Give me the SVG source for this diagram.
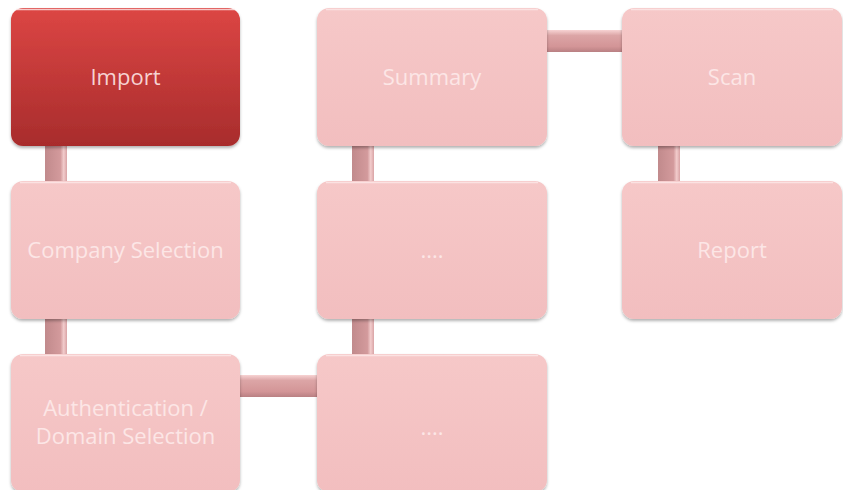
<svg xmlns="http://www.w3.org/2000/svg" width="843" height="490" viewBox="0 0 843 490">
<defs>
<linearGradient id="pink" x1="0" y1="0" x2="0" y2="1">
<stop offset="0" stop-color="#f6c8c8"/>
<stop offset="1" stop-color="#f2bebf"/>
</linearGradient>
<linearGradient id="red" x1="0" y1="0" x2="0" y2="1">
<stop offset="0" stop-color="#dc4644"/>
<stop offset="1" stop-color="#a82c2c"/>
</linearGradient>
<linearGradient id="hbar" x1="0" y1="0" x2="0" y2="1">
<stop offset="0" stop-color="#f7d3d3"/>
<stop offset="0.25" stop-color="#dca5a6"/>
<stop offset="0.75" stop-color="#d39597"/>
<stop offset="1" stop-color="#b98083"/>
</linearGradient>
<linearGradient id="vbar" x1="0" y1="0" x2="1" y2="0">
<stop offset="0" stop-color="#c18a8c"/>
<stop offset="0.7" stop-color="#d39a9c"/>
<stop offset="0.85" stop-color="#f2cccc"/>
<stop offset="1" stop-color="#d9a3a5"/>
</linearGradient>
<filter id="sh" x="-5%" y="-5%" width="110%" height="115%">
<feDropShadow dx="0" dy="2" stdDeviation="1.5" flood-color="#000" flood-opacity="0.3"/>
</filter>
</defs>
<style>
.box{fill:url(#pink);filter:url(#sh)}
.hl{fill:none;stroke:#fde8e8;stroke-width:1.5;opacity:0.8}
.lbl{font-family:"Open Sans","DejaVu Sans",sans-serif;font-size:22px;fill:#fce6e6;text-anchor:middle}
</style>
<rect width="843" height="490" fill="#ffffff"/>
<g id="connectors">
<rect x="45" y="144" width="22" height="40" fill="url(#vbar)"/>
<rect x="45" y="317" width="22" height="40" fill="url(#vbar)"/>
<rect x="238" y="375" width="82" height="22" fill="url(#hbar)"/>
<rect x="352" y="144" width="22" height="40" fill="url(#vbar)"/>
<rect x="352" y="317" width="22" height="40" fill="url(#vbar)"/>
<rect x="544" y="30" width="80" height="22" fill="url(#hbar)"/>
<rect x="658" y="144" width="22" height="40" fill="url(#vbar)"/>
</g>
<g id="import">
<rect x="11" y="8" width="229" height="138" rx="12" fill="url(#red)" filter="url(#sh)"/>
<path d="M16 9.5 H235" class="hl" stroke="#e77" opacity="0.5"/>
<text x="125.5" y="85" class="lbl" style="fill:#f6d3d2">Import</text>
</g>
<g id="company">
<rect x="11" y="181" width="229" height="138" rx="12" class="box"/>
<path d="M20 182.5 H231" class="hl"/>
<text x="125.5" y="258" class="lbl">Company Selection</text>
</g>
<g id="auth">
<rect x="11" y="354" width="229" height="138" rx="12" class="box"/>
<path d="M20 355.5 H231" class="hl"/>
<text x="125.5" y="416" class="lbl">Authentication /</text>
<text x="125.5" y="444" class="lbl">Domain Selection</text>
</g>
<g id="summary">
<rect x="317" y="8" width="230" height="138" rx="12" class="box"/>
<path d="M326 9.5 H538" class="hl"/>
<text x="432" y="85" class="lbl">Summary</text>
</g>
<g id="mid1">
<rect x="317" y="181" width="230" height="138" rx="12" class="box"/>
<path d="M326 182.5 H538" class="hl"/>
<text x="432" y="258" class="lbl">....</text>
</g>
<g id="mid2">
<rect x="317" y="354" width="230" height="138" rx="12" class="box"/>
<path d="M326 355.5 H538" class="hl"/>
<text x="432" y="435" class="lbl">....</text>
</g>
<g id="scan">
<rect x="622" y="8" width="220" height="138" rx="12" class="box"/>
<path d="M631 9.5 H833" class="hl"/>
<text x="732" y="85" class="lbl">Scan</text>
</g>
<g id="report">
<rect x="622" y="181" width="220" height="138" rx="12" class="box"/>
<path d="M631 182.5 H833" class="hl"/>
<text x="732" y="258" class="lbl">Report</text>
</g>
</svg>
